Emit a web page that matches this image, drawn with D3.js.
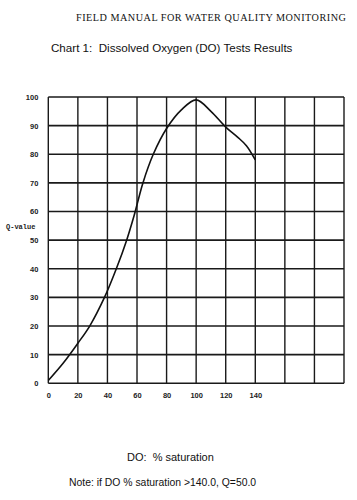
<!DOCTYPE html>
<html><head><meta charset="utf-8">
<script src="https://cdn.jsdelivr.net/npm/d3@7"></script>
<style>body{margin:0;background:#fff;}svg{display:block;}text{white-space:pre;}</style>
</head><body>
<script>
const doSat = [0, 10, 20, 28, 38, 46, 53, 58, 64, 71, 80, 90, 100, 110, 120, 128, 134, 140];
const qValue = [1, 7, 14, 20, 30, 40, 50, 58.5, 70, 80, 89, 95.5, 99, 95, 89.5, 86, 83, 78];
const xTickLabels = [0, 20, 40, 60, 80, 100, 120, 140];
const xGrid = [0, 20, 40, 60, 80, 100, 120, 140, 160, 180, 200];
const yTicks = [0, 10, 20, 30, 40, 50, 60, 70, 80, 90, 100];

const W = 357, H = 500;
const svg = d3.select("body").append("svg").attr("width", W).attr("height", H);
svg.append("rect").attr("width", W).attr("height", H).attr("fill", "#fff");

const x = d3.scaleLinear().domain([0, 200]).range([48.3, 344]);
const y = d3.scaleLinear().domain([0, 100]).range([383.3, 97]);

svg.append("text").attr("x", 76).attr("y", 21)
  .attr("font-family", "Liberation Serif").attr("font-size", 10.2).attr("letter-spacing", 0.5)
  .attr("fill", "#111").text("FIELD MANUAL FOR WATER QUALITY MONITORING");
svg.append("text").attr("x", 51).attr("y", 52)
  .attr("font-family", "Liberation Sans").attr("font-size", 11.6)
  .attr("fill", "#111").text("Chart 1:  Dissolved Oxygen (DO) Tests Results");

const g = svg.append("g");
g.selectAll("line.h").data(yTicks).join("line")
  .attr("x1", x(0)).attr("x2", x(200)).attr("y1", d => y(d)).attr("y2", d => y(d))
  .attr("stroke", "#1a1a1a").attr("stroke-width", 1.6);
g.selectAll("line.v").data(xGrid).join("line")
  .attr("y1", y(0)).attr("y2", y(100)).attr("x1", d => x(d)).attr("x2", d => x(d))
  .attr("stroke", "#1a1a1a").attr("stroke-width", 1.4);

const yAxis = svg.append("g").attr("transform", `translate(${x(0)},0)`)
  .call(d3.axisLeft(y).tickValues(yTicks).tickSize(0).tickPadding(10));
yAxis.select(".domain").remove();
yAxis.selectAll("text").attr("font-family", "Liberation Sans").attr("font-weight", "bold")
  .attr("font-size", 7.5).attr("fill", "#222");

const xAxis = svg.append("g").attr("transform", `translate(0,${y(0)})`)
  .call(d3.axisBottom(x).tickValues(xTickLabels).tickSize(0).tickPadding(9));
xAxis.select(".domain").remove();
xAxis.selectAll("text").attr("font-family", "Liberation Sans").attr("font-weight", "bold")
  .attr("font-size", 7.5).attr("fill", "#222");

svg.append("text").attr("x", 6).attr("y", 228.5)
  .attr("font-family", "Liberation Mono").attr("font-weight", "bold").attr("font-size", 7)
  .attr("fill", "#222").text("Q-value");

const line = d3.line().x((d, i) => x(doSat[i])).y(d => y(d)).curve(d3.curveCatmullRom);
svg.append("path").datum(qValue).attr("d", line)
  .attr("fill", "none").attr("stroke", "#111").attr("stroke-width", 1.6);

svg.append("text").attr("x", 127).attr("y", 461)
  .attr("font-family", "Liberation Sans").attr("font-size", 11)
  .attr("fill", "#111").text("DO:  % saturation");
svg.append("text").attr("x", 69).attr("y", 486)
  .attr("font-family", "Liberation Sans").attr("font-size", 10.4)
  .attr("fill", "#111").text("Note: if DO % saturation >140.0, Q=50.0");
</script>
</body></html>
